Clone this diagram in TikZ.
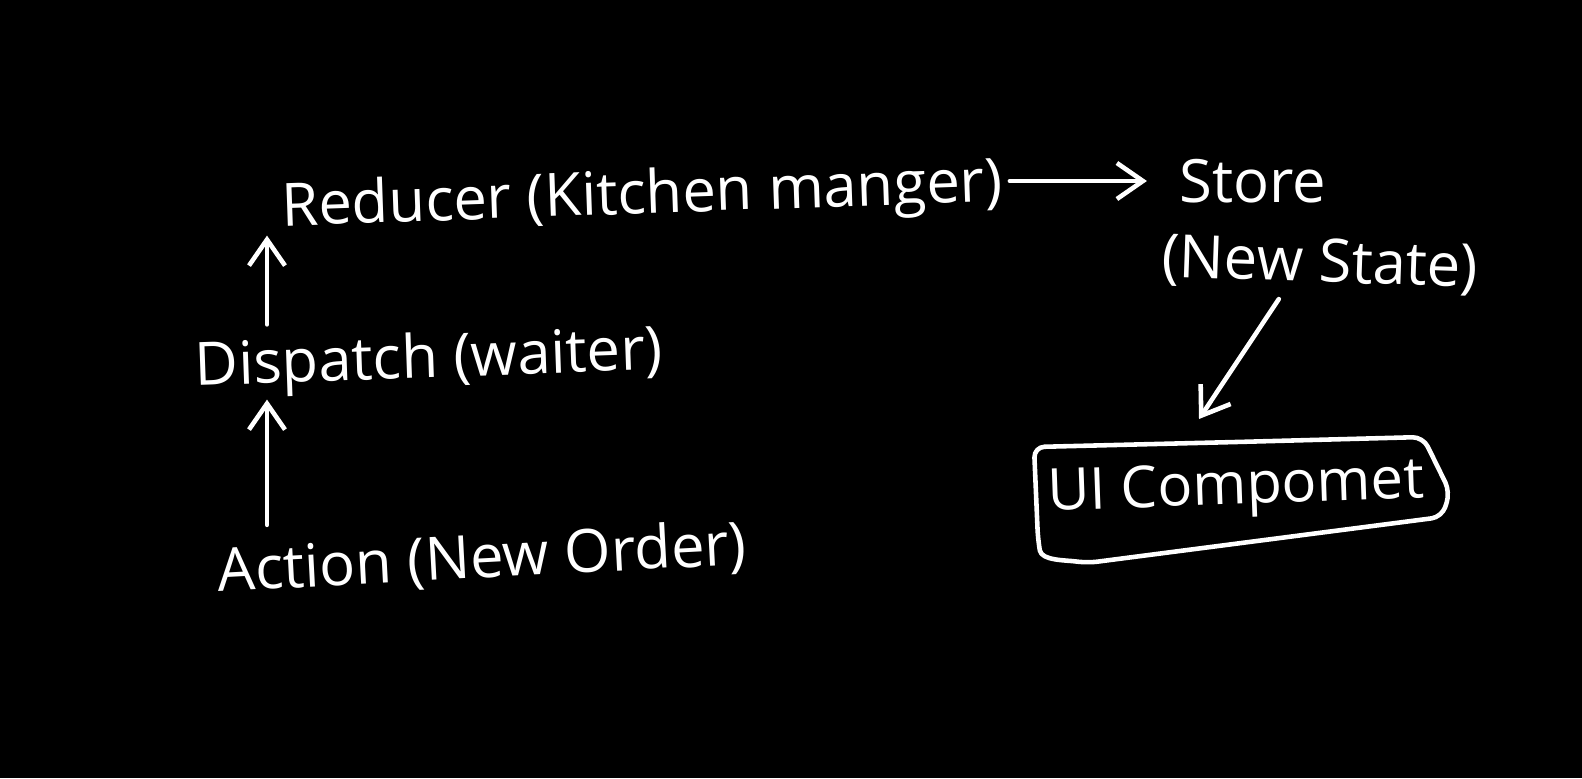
\documentclass[tikz,border=0pt]{standalone}
\usepackage{fontspec}
\setmainfont{Open Sans}
\usetikzlibrary{arrows.meta,positioning}

\begin{document}
\begin{tikzpicture}[
    hand/.style={text=white, font=\fontsize{17}{20}\selectfont, inner sep=2pt},
    pen/.style={draw=white, line width=1.3pt, line cap=round, line join=round},
    >={Straight Barb[length=2.6mm, width=3.6mm]}
]
\fill[black] (0,0) rectangle (15.82,7.78);
\useasboundingbox (0,0) rectangle (15.82,7.78);
\node[hand, rotate=2] (reducer) at (6.42,5.80) {Reducer (Kitchen manger)};
\node[hand] (store) at (12.53,5.97) {Store};
\node[hand, rotate=-2] (newstate) at (13.20,5.13) {(New State)};
\node[hand, rotate=2] (dispatch) at (4.29,4.16) {Dispatch (waiter)};
\node[hand, rotate=3] (action) at (4.82,2.18) {Action (New Order)};
\node[hand, rotate=2, font=\fontsize{16.5}{20}\selectfont] (ui) at (12.36,2.88) {UI Compomet};
\coordinate (col) at (2.67,0);
\coordinate (uitop) at (11.99,3.59);
\draw[pen, ->] (action.north -| col) -- (dispatch.south -| col);
\draw[pen, ->] (dispatch.north -| col) -- (reducer.south -| col);
\draw[pen, ->, shorten >=2.5mm] (reducer.east |- store) -- (store.west);
\draw[pen, ->] ([xshift=-4mm]newstate.south) -- (uitop);
% box round the UI text
\draw[pen, rounded corners=3pt] ([shift={(0,0.48)}]ui.center) -- ([shift={(1.87,0.53)}]ui.center)
    -- ([shift={(2.14,-0.02)}]ui.center) -- ([shift={(2.06,-0.27)}]ui.center)
    -- ([shift={(-1.49,-0.73)}]ui.center)
    to[out=172, in=-80] ([shift={(-1.98,-0.50)}]ui.center)
    -- ([shift={(-2.02,0.43)}]ui.center) -- cycle;
\end{tikzpicture}
\end{document}
